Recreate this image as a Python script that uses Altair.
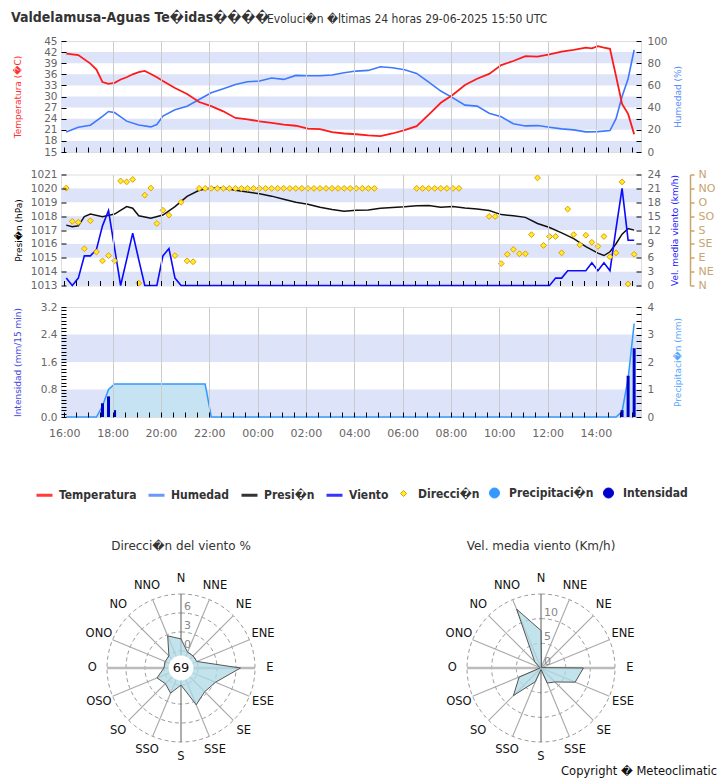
import altair as alt
import numpy as np
import pandas as pd

# ------------------------------------------------------------------ series
# Times are HH:MM; 16:00 onwards is 28-06-2025, earlier hours are 29-06-2025.
temp_time = ["16:05", "16:35", "17:05", "17:20", "17:35", "17:50", "18:05", "18:20", "18:35", "18:50",
             "19:05", "19:20", "19:35", "19:50", "20:05", "20:35", "21:05", "21:35", "22:05", "22:35",
             "23:05", "23:35", "00:05", "00:35", "01:05", "01:35", "02:05", "02:35", "03:05", "03:35",
             "04:05", "04:35", "05:05", "05:35", "06:05", "06:35", "07:05", "07:35", "08:05", "08:35",
             "09:05", "09:35", "10:05", "10:35", "11:05", "11:35", "12:05", "12:35", "13:05", "13:35",
             "13:50", "14:05", "14:20", "14:35", "14:50", "15:05", "15:20", "15:35"]
temp_val = [41.6, 41.2, 38.9, 37.3, 33.9, 33.4, 33.7, 34.6, 35.2, 36.0,
            36.6, 36.9, 36.1, 35.2, 34.2, 32.3, 30.7, 28.5, 27.4, 26.0,
            24.2, 23.8, 23.3, 22.9, 22.4, 22.1, 21.3, 21.2, 20.4, 20.0,
            19.8, 19.5, 19.3, 20.0, 20.9, 22.0, 25.1, 28.3, 30.5, 33.1,
            34.8, 36.1, 38.5, 39.6, 40.9, 40.8, 41.4, 42.1, 42.6, 43.2,
            43.0, 43.6, 43.2, 42.9, 35.5, 28.0, 25.3, 19.8]

hum_time = ["16:05", "16:35", "17:05", "17:35", "17:50", "18:05", "18:35", "19:05", "19:35", "19:50",
            "20:05", "20:35", "21:05", "21:35", "22:05", "22:35", "23:05", "23:35", "00:05", "00:35",
            "01:05", "01:35", "02:05", "02:35", "03:05", "03:35", "04:05", "04:35", "05:05", "05:35",
            "06:05", "06:35", "07:05", "07:35", "08:05", "08:35", "09:05", "09:35", "10:05", "10:35",
            "11:05", "11:35", "12:05", "12:35", "13:05", "13:35", "14:05", "14:35", "14:50", "15:05",
            "15:20", "15:35"]
hum_val = [18.1, 22.3, 24.1, 32.0, 36.5, 35.5, 27.8, 24.4, 22.6, 24.7,
           32.3, 38.0, 41.3, 47.3, 53.3, 57.0, 60.9, 63.3, 63.9, 66.6,
           65.4, 69.0, 68.7, 68.7, 69.3, 71.4, 72.9, 73.5, 76.8, 75.9,
           74.1, 70.8, 63.0, 54.9, 48.8, 42.2, 41.3, 35.0, 31.7, 25.4,
           23.5, 23.8, 22.3, 20.8, 19.9, 18.1, 18.4, 19.3, 30.0, 50.0,
           66.0, 92.0]

pres_time = ["16:05", "16:20", "16:35", "16:50", "17:05", "17:35", "18:05", "18:35", "18:50", "19:05",
             "19:35", "20:05", "20:35", "21:05", "21:35", "22:05", "22:35", "23:05", "23:35", "00:05",
             "00:35", "01:05", "01:35", "02:05", "02:35", "03:05", "03:35", "04:05", "04:35", "05:05",
             "05:35", "06:05", "06:35", "07:05", "07:35", "08:05", "08:35", "09:05", "09:35", "10:05",
             "10:35", "11:05", "11:35", "12:05", "12:35", "13:05", "13:35", "14:05", "14:20", "14:35",
             "14:50", "15:05", "15:20", "15:35"]
pres_val = [1017.35, 1017.23, 1017.30, 1017.96, 1018.15, 1017.96, 1018.15, 1018.69, 1018.57, 1018.03,
            1017.84, 1018.08, 1018.69, 1019.42, 1019.86, 1020.03, 1020.03, 1019.86, 1019.74, 1019.61,
            1019.44, 1019.22, 1019.00, 1018.86, 1018.64, 1018.47, 1018.35, 1018.42, 1018.45, 1018.57,
            1018.62, 1018.67, 1018.74, 1018.76, 1018.64, 1018.69, 1018.59, 1018.52, 1018.40, 1018.11,
            1018.03, 1017.91, 1017.47, 1017.18, 1016.79, 1016.38, 1015.80, 1015.33, 1015.16, 1015.43,
            1016.01, 1016.70, 1017.11, 1016.99]

wind_time = ["16:05", "16:20", "16:35", "16:50", "17:05", "17:20", "17:35", "17:50", "18:05", "18:20",
             "18:35", "18:50", "19:05", "19:20", "19:50", "20:05", "20:20", "20:35", "20:50", "12:05",
             "12:20", "12:35", "12:50", "13:35", "13:50", "14:05", "14:20", "14:35", "14:50", "15:05",
             "15:20", "15:35"]
wind_val = [1.6, 0.0, 1.6, 6.4, 6.4, 7.8, 12.9, 16.2, 8.1, 0.0,
            5.6, 11.3, 5.6, 0.0, 0.0, 6.4, 8.0, 1.6, 0.0, 0.0,
            1.6, 1.6, 3.2, 3.2, 4.9, 3.2, 4.9, 3.2, 12.3, 21.0,
            9.8, 9.8]

dir_time = ["16:05", "16:20", "16:35", "16:50", "17:05", "17:20", "17:35", "17:50", "18:05", "18:20",
            "18:35", "18:50", "19:05", "19:20", "19:35", "19:50", "20:05", "20:20", "20:35", "20:50",
            "21:05", "21:20", "21:35", "21:50", "22:05", "22:20", "22:35", "22:50", "23:05", "23:20",
            "23:35", "23:50", "00:05", "00:20", "00:35", "00:50", "01:05", "01:20", "01:35", "01:50",
            "02:05", "02:20", "02:35", "02:50", "03:05", "03:20", "03:35", "03:50", "04:05", "04:20",
            "04:35", "04:50", "06:35", "06:50", "07:05", "07:20", "07:35", "07:50", "08:05", "08:20",
            "09:35", "09:50", "10:05", "10:20", "10:35", "10:50", "11:05", "11:20", "11:35", "11:50",
            "12:05", "12:20", "12:35", "12:50", "13:05", "13:20", "13:35", "13:50", "14:05", "14:20",
            "14:35", "14:50", "15:05", "15:20", "15:35"]
dir_val = [316, 208, 205, 119, 210, 109, 80, 97, 80, 339,
           336, 344, 8, 293, 316, 201, 244, 228, 97, 270,
           80, 77, 315, 315, 315, 315, 315, 315, 315, 315,
           315, 315, 315, 315, 315, 315, 315, 315, 315, 315,
           315, 315, 315, 315, 315, 315, 315, 315, 315, 315,
           315, 315, 315, 315, 315, 315, 315, 315, 315, 315,
           224, 224, 71, 101, 117, 103, 103, 165, 349, 130,
           159, 159, 106, 248, 165, 132, 163, 140, 127, 159,
           93, 106, 336, 5, 101]

rain_int_time = ["17:35", "17:50", "18:05", "15:05", "15:20", "15:35"]
rain_int_val = [0.4, 0.6, 0.2, 0.2, 1.2, 2.0]

rain_acc_time = ["16:05", "17:20", "17:35", "17:50", "18:05", "21:50", "22:05", "14:50",
                 "15:05", "15:20", "15:35"]
rain_acc_val = [0.0, 0.0, 0.4, 1.0, 1.2, 1.2, 0.0, 0.0, 0.2, 1.4, 3.4]

# wind roses, 16 sectors clockwise from north
rose_dirs = ["N", "NNE", "NE", "ENE", "E", "ESE", "SE", "SSE",
             "S", "SSO", "SO", "OSO", "O", "ONO", "NO", "NNO"]
rose_pct = [1.9, 0.0, 0.0, 0.0, 6.7, 3.2, 2.6, 3.6, 0.0, 1.6, 0.8, 1.4, 0.0, 0.0, 0.0, 2.8]
rose_speed = [7.6, 0.2, 0.1, 0.2, 8.6, 7.5, 4.0, 3.3, 0.3, 3.0, 7.9, 4.8, 0.2, 0.3, 1.8, 12.9]
calm_pct = 69

legend_names = ["Temperatura", "Humedad", "Presi\ufffdn", "Viento", "Direcci\ufffdn",
                "Precipitaci\ufffdn", "Intensidad"]

title_main = "Valdelamusa-Aguas Te\ufffdidas\ufffd\ufffd\ufffd\ufffd"
title_sub = "Evoluci\ufffdn \ufffdltimas 24 horas 29-06-2025 15:50 UTC"
copyright_text = "Copyright \ufffd Meteoclimatic"


# ------------------------------------------------------------------ helpers
def stamp(hhmm):
    h, m = (int(p) for p in hhmm.split(":"))
    return pd.Timestamp(2025, 6, 28 if h >= 16 else 29, h, m)


def frame(times, values):
    return pd.DataFrame({"time": [stamp(t) for t in times], "value": values})


W = 580
H1, H2, H3 = 111, 111, 110
BAND = "#dde4fa"
LABEL = "#666666"
FONT = "DejaVu Sans"

t_start = alt.DateTime(year=2025, month=6, date=28, hours=15, minutes=52)
t_end = alt.DateTime(year=2025, month=6, date=29, hours=15, minutes=52)
x_scale = alt.Scale(domain=[t_start, t_end], padding=0)
half_hours = pd.date_range("2025-06-28 16:00", "2025-06-29 15:30", freq="30min")
x_ticks = [alt.DateTime(year=t.year, month=t.month, date=t.day, hours=t.hour, minutes=t.minute)
           for t in half_hours]
even_hour = "minutes(datum.value) == 0 && hours(datum.value) % 2 == 0"


def time_axis(labels):
    return alt.Axis(
        values=x_ticks, labels=labels, title=None, domain=False, offset=-5, tickSize=5,
        tickColor="#000", labelExpr=f"{even_hour} ? timeFormat(datum.value, '%H:%M') : ''",
        labelFont=FONT, labelFontSize=11, labelColor=LABEL, labelPadding=10,
        grid=True, gridColor="#cccccc", gridWidth=1,
        gridOpacity={"condition": {"test": f"{even_hour} && hours(datum.value) != 16", "value": 1},
                     "value": 0},
        zindex=1)


def y_axis(orient, values, title, color, title_x, height, label_expr=None, **kw):
    opts = dict(orient=orient, values=values, title=title, titleColor=color, titleFont=FONT,
                titleFontSize=9, titleFontWeight="normal", titleAngle=270, titleAlign="center",
                titleBaseline="middle", titleX=title_x, titleY=height / 2,
                labelFont=FONT, labelFontSize=10.5, labelColor=LABEL,
                labelPadding=4 if orient == "left" else 6,
                domain=False, offset=-5, tickSize=5, tickColor="#000", grid=False, zindex=1)
    if label_expr:
        opts["labelExpr"] = label_expr
    opts.update(kw)
    return alt.Axis(**opts)


def bands(lo, hi, step, width):
    return (alt.Chart(alt.sequence(lo, hi, step, as_="lo"))
            .transform_calculate(hi=f"datum.lo + {width}")
            .mark_rect(color=BAND)
            .encode(x=alt.value(0), x2=alt.value("width"),
                    y=alt.Y("lo:Q", scale=alt.Scale(domain=[lo, hi], nice=False, zero=False), axis=None),
                    y2="hi:Q"))


# ------------------------------------------------------------------ panel 1: temperature / humidity
x_plain = alt.X("time:T", scale=x_scale, axis=time_axis(False))
x_labelled = alt.X("time:T", scale=x_scale, axis=time_axis(True))

temp_line = alt.Chart(frame(temp_time, temp_val)).mark_line(color="#ff1a1a", strokeWidth=1.8).encode(
    x=x_plain,
    y=alt.Y("value:Q", scale=alt.Scale(domain=[15, 45], nice=False, zero=False),
            axis=y_axis("left", list(range(15, 46, 3)), "Temperatura (\ufffdC)", "#ff3030", -49, H1)))
hum_line = alt.Chart(frame(hum_time, hum_val)).mark_line(color="#3d78ff", strokeWidth=1.6).encode(
    x=x_plain,
    y=alt.Y("value:Q", scale=alt.Scale(domain=[0, 100], nice=False),
            axis=y_axis("right", list(range(0, 101, 10)), "Humedad (%)", "#5a8cff", 41, H1,
                        label_expr="datum.value % 20 == 0 ? datum.value : ''")))
head_main = alt.Chart(pd.DataFrame({"t": [title_main]})).mark_text(
    align="left", baseline="middle", font="DejaVu Sans Condensed", fontWeight="bold",
    fontSize=14, color="#333333").encode(text="t:N", x=alt.value(-50), y=alt.value(-23))
head_sub = alt.Chart(pd.DataFrame({"t": [title_sub]})).mark_text(
    align="left", baseline="middle", font="DejaVu Sans Condensed", fontSize=12,
    color="#333333").encode(text="t:N", x=alt.value(206), y=alt.value(-22))

p1 = (alt.layer(bands(15, 45, 6, 3), hum_line, temp_line, head_main, head_sub)
      .resolve_scale(y="independent").properties(width=W, height=H1))

# ------------------------------------------------------------------ panel 2: pressure / wind
pres_line = alt.Chart(frame(pres_time, pres_val)).mark_line(color="#111111", strokeWidth=1.5).encode(
    x=x_plain,
    y=alt.Y("value:Q", scale=alt.Scale(domain=[1013, 1021], nice=False, zero=False),
            axis=y_axis("left", list(range(1013, 1022)), "Presi\ufffdn (hPa)", "#000000", -48, H2,
                        format="d")))
wind_line = alt.Chart(frame(wind_time, wind_val)).mark_line(color="#0a0aff", strokeWidth=1.6).encode(
    x=x_plain,
    y=alt.Y("value:Q", scale=alt.Scale(domain=[0, 24], nice=False),
            axis=y_axis("right", list(range(0, 25, 3)), "Vel. media viento (km/h)", "#1a1aff", 38, H2)))
dir_points = alt.Chart(frame(dir_time, dir_val)).mark_point(
    shape="diamond", filled=True, fill="#ffee22", stroke="#e39a10", strokeWidth=1, size=34,
    opacity=1).encode(
    x=x_plain,
    y=alt.Y("value:Q", scale=alt.Scale(domain=[0, 360], nice=False),
            axis=alt.Axis(orient="right", values=list(range(0, 361, 45)), title=None, offset=49,
                          labelExpr="['N','NE','E','SE','S','SO','O','NO','N'][round(datum.value / 45)]",
                          labelFont=FONT, labelFontSize=11, labelColor="#c8a46e", labelPadding=4,
                          domain=True, domainColor="#c8a46e", domainWidth=1.5, tickColor="#c8a46e",
                          tickSize=4, tickWidth=1.5, grid=False, zindex=1)))

p2 = (alt.layer(bands(1013, 1021, 2, 1), pres_line, wind_line, dir_points)
      .resolve_scale(y="independent").properties(width=W, height=H2))

# ------------------------------------------------------------------ panel 3: rain
rain_area = alt.Chart(frame(rain_acc_time, rain_acc_val)).mark_area(
    color="#c6e3f3", opacity=1, line=alt.OverlayMarkDef(color="#3399ff", strokeWidth=1.5)).encode(
    x=x_labelled,
    y=alt.Y("value:Q", scale=alt.Scale(domain=[0, 4], nice=False),
            axis=y_axis("right", [v / 4 for v in range(0, 17)], "Precipitaci\ufffdn (mm)", "#55a6ff", 41, H3,
                        label_expr="datum.value % 1 == 0 ? datum.value : ''")))
rain_bars = alt.Chart(frame(rain_int_time, rain_int_val)).mark_bar(color="#0000cc", size=3).encode(
    x=x_labelled,
    y=alt.Y("value:Q", scale=alt.Scale(domain=[0, 3.2], nice=False),
            axis=y_axis("left", [round(v * 0.1, 1) for v in range(0, 33)], "Intensidad (mm/15 min)",
                        "#4848dd", -49, H3,
                        label_expr="round(datum.value * 10) % 8 == 0 ? format(datum.value, '.1f') : ''")))

p3 = (alt.layer(bands(0, 3.2, 1.6, 0.8), rain_area, rain_bars)
      .resolve_scale(y="independent").properties(width=W, height=H3))

# ------------------------------------------------------------------ legend row
leg = alt.Legend(orient="none", legendX=-26, legendY=36, direction="horizontal", columns=7,
                 title=None, labelFont="DejaVu Sans Condensed", labelFontWeight="bold",
                 labelFontSize=12, labelColor="#333333", labelOffset=5, columnPadding=5,
                 padding=0)


def leg_scale(rng, kind=alt.Undefined):
    return alt.Scale(type=kind, domain=legend_names, range=rng)


legend_row = alt.Chart(pd.DataFrame({"serie": legend_names})).transform_filter("false").mark_point(
    filled=True, opacity=1).encode(
    fill=alt.Fill("serie:N", legend=leg, scale=leg_scale(
        ["transparent", "transparent", "transparent", "transparent", "#ffee22", "#3399ff", "#0000cc"])),
    stroke=alt.Stroke("serie:N", legend=leg, scale=leg_scale(
        ["#ff3b3b", "#6b96ff", "#333333", "#3535ff", "#e39a10", "#3399ff", "#0000cc"])),
    shape=alt.Shape("serie:N", legend=leg, scale=leg_scale(
        ["stroke", "stroke", "stroke", "stroke", "diamond", "circle", "circle"])),
    size=alt.Size("serie:N", legend=leg, scale=leg_scale([256, 256, 256, 256, 36, 100, 100], "ordinal")),
    strokeWidth=alt.StrokeWidth("serie:N", legend=leg, scale=leg_scale([3, 3, 3, 3, 1, 1, 1], "ordinal")),
).properties(width=W, height=10, view=alt.ViewBackground(stroke="transparent"))


# ------------------------------------------------------------------ wind roses
RW, RH, RTOP = 240, 265, 155      # view size, centre distance from the top edge
OUTER_PX = 74


def rose(values, offset, outer, step, title, centre=None, extra=()):
    R = offset + outer
    ppu = OUTER_PX / R
    xs = alt.Scale(domain=[-RW / 2 / ppu, RW / 2 / ppu], nice=False, zero=False)
    ys = alt.Scale(domain=[-(RH - RTOP) / ppu, RTOP / ppu], nice=False, zero=False)
    X = lambda f: alt.X(f, type="quantitative", scale=xs, axis=None)
    Y = lambda f: alt.Y(f, type="quantitative", scale=ys, axis=None)

    ang = np.deg2rad(np.arange(16) * 22.5)
    rings = []
    for k in range(4):
        r = offset + k * step
        if r <= 0:
            continue
        a = np.deg2rad(np.arange(0, 361, 3))
        rings.append(pd.DataFrame({"ring": k, "i": np.arange(len(a)),
                                   "x": r * np.sin(a), "y": r * np.cos(a)}))
    ring_df = pd.concat(rings)
    ring_layer = alt.Chart(ring_df).mark_line(color="#999999", strokeDash=[4, 3], strokeWidth=1).encode(
        x=X("x"), y=Y("y"), detail="ring:N", order="i:Q")

    kind = ["ns" if i % 8 == 0 else ("eo" if i % 8 == 4 else "other") for i in range(16)]
    spoke_df = pd.DataFrame({"x": 0.0, "y": 0.0, "x2": R * np.sin(ang), "y2": R * np.cos(ang), "kind": kind})
    spoke_layers = []
    for k, col, wd in [("eo", "#bbbbbb", 2.5), ("other", "#aaaaaa", 1.2), ("ns", "#777777", 1.2)]:
        spoke_layers.append(alt.Chart(spoke_df).transform_filter(f"datum.kind == '{k}'")
                            .mark_rule(color=col, strokeWidth=wd)
                            .encode(x=X("x"), y=Y("y"), x2="x2:Q", y2="y2:Q"))

    rr = offset + np.array(values)
    poly_df = pd.DataFrame({"i": np.arange(16), "x": rr * np.sin(ang), "y": rr * np.cos(ang)})
    poly = alt.Chart(poly_df).mark_line(interpolate="linear-closed", fill="#add8e6", fillOpacity=0.75,
                                        stroke="#555555", strokeWidth=1).encode(
        x=X("x"), y=Y("y"), order="i:Q")

    lab_r = R * 1.2
    lab_df = pd.DataFrame({"name": rose_dirs, "x": lab_r * np.sin(ang), "y": lab_r * np.cos(ang)})
    labels = alt.Chart(lab_df).mark_text(font=FONT, fontSize=11.5, color="#111111").encode(
        x=X("x"), y=Y("y"), text="name:N")

    tick_df = pd.DataFrame({"v": [0, step, 2 * step], "x": 0.0, "y": [offset, offset + step, offset + 2 * step]})
    ring_labels = alt.Chart(tick_df).mark_text(font=FONT, fontSize=11, color="#888888", align="left",
                                               dx=3, dy=-6).encode(x=X("x"), y=Y("y"), text="v:Q")

    head = alt.Chart(pd.DataFrame({"t": [title]})).mark_text(
        font=FONT, fontSize=12, color="#333333").encode(
        text="t:N", x=alt.value(RW / 2), y=alt.value(RTOP - 122))

    layers = [ring_layer, *spoke_layers, poly, ring_labels, labels, head]
    if centre is not None:
        c_df = pd.DataFrame({"x": [0.0], "y": [0.0], "t": [str(centre)]})
        layers.append(alt.Chart(c_df).mark_point(shape="circle", filled=True, color="white",
                                                 opacity=1, size=620).encode(x=X("x"), y=Y("y")))
        layers.append(alt.Chart(c_df).mark_text(font=FONT, fontSize=13, color="#111111").encode(
            x=X("x"), y=Y("y"), text="t:N"))
    layers.extend(extra)
    return alt.layer(*layers).properties(width=RW, height=RH,
                                         view=alt.ViewBackground(stroke="transparent"))


copyright_layer = alt.Chart(pd.DataFrame({"t": [copyright_text]})).mark_text(
    font=FONT, fontSize=11.5, color="#111111", align="right").encode(
    text="t:N", x=alt.value(296), y=alt.value(RTOP + 104))

rose_left = rose(rose_pct, 2.7, 9, 3, "Direcci\ufffdn del viento %", centre=calm_pct)
rose_right = rose(rose_speed, 0.0, 15, 5, "Vel. media viento (Km/h)", extra=(copyright_layer,))
roses = alt.hconcat(rose_left, rose_right, spacing=118)

legend_channels = dict(fill="independent", stroke="independent", shape="independent",
                       size="independent", strokeWidth="independent")
chart = (alt.vconcat(p1, p2, p3, legend_row, roses, spacing=9.5)
         .resolve_scale(**legend_channels)
         .resolve_legend(**legend_channels)
         .properties(padding={"left": 10, "top": 10, "right": 0, "bottom": 0})
         .configure_view(stroke="#000000", strokeWidth=1)
         .configure(font=FONT))

chart.save("out.html", embed_options={"renderer": "svg", "actions": False})
